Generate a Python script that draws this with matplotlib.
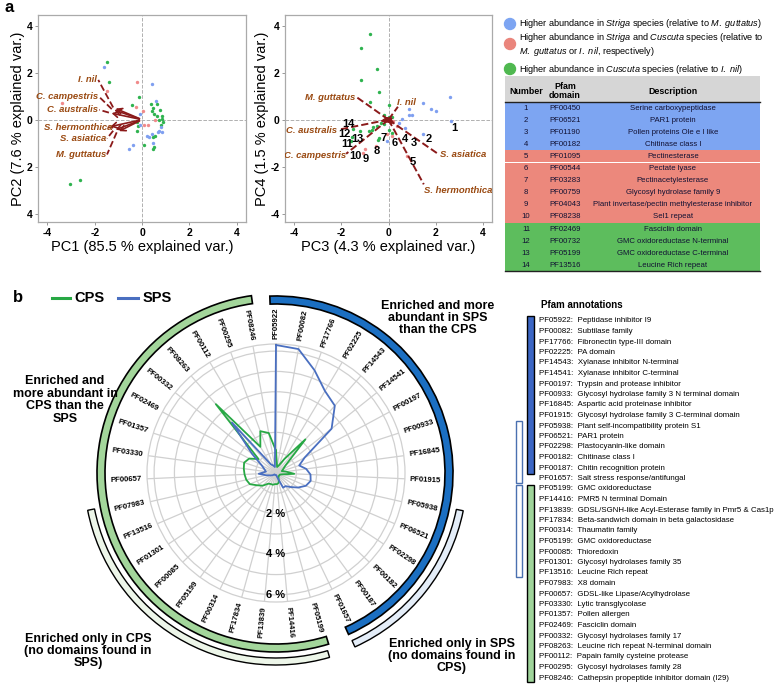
import matplotlib.pyplot as plt
import matplotlib.patches as mpatches
import numpy as np

plt.rcParams['font.family'] = ['Liberation Sans', 'DejaVu Sans']
plt.rcParams['mathtext.fontset'] = 'custom'
plt.rcParams['mathtext.rm'] = 'Liberation Sans'
plt.rcParams['mathtext.it'] = 'Liberation Sans:italic'
plt.rcParams['mathtext.bf'] = 'Liberation Sans:bold'

W, H = 778, 686

# ---------------- panel a data ----------------
pc12_green = [(-1.48, 2.46), (-1.4, 1.61), (-3.05, -2.75), (-2.63, -2.58), (-0.11, 0.95), (-0.44, 0.64),
              (0.37, 0.66), (0.45, 0.49), (0.62, 0.66), (0.41, 0.38), (0.76, 0.41), (0.51, 0.24),
              (0.65, 0.17), (0.83, 0.17), (0.86, 0.03), (0.9, -0.11), (0.79, -0.21), (0.55, -0.68),
              (0.45, -0.75), (0.08, -1.06), (0.51, -1.17), (0.48, -1.24), (-0.23, -0.47),
              (-0.18, -0.25), (0.72, 0.0), (-0.2, -0.1)]
pc12_blue = [(-1.61, 2.25), (0.42, 1.53), (0.59, 0.8), (-0.08, 0.24), (0.79, -0.33), (0.72, -0.47),
             (0.86, -0.54), (0.41, -0.61), (0.22, -0.68), (0.31, -0.72), (0.48, -1.0), (-0.39, -1.06),
             (-0.54, -1.24), (0.68, -0.54), (-0.08, -0.21)]
pc12_pink = [(-1.48, 1.23), (-3.4, 0.72), (-0.2, 1.6), (-0.25, 0.52), (0.03, 0.38), (0.55, -0.03),
             (0.27, -0.21), (0.08, -0.21)]

pc34_green = [(-0.79, 3.66), (-1.19, 3.06), (-0.51, 2.14), (-1.19, 1.67), (-0.41, 1.18), (-0.77, 0.75),
              (0.01, 0.61), (-0.2, 0.2), (0.0, 0.1), (0.15, 0.1), (-0.5, -0.25), (-0.65, -0.3),
              (-0.7, -0.45), (-0.85, -0.5), (-0.4, -0.8), (-0.45, -0.85), (-1.2, -0.5), (-1.5, -0.4),
              (0.0, -0.45), (0.15, -0.55), (-0.2, -0.2), (-0.3, -0.15), (-1.55, -0.75), (-1.6, -0.9)]
pc34_blue = [(2.6, 0.97), (1.47, 0.72), (1.79, 0.44), (2.0, 0.37), (0.86, 0.47), (0.86, 0.2), (1.0, 0.2),
             (0.58, 0.01), (2.67, -0.06), (1.47, -0.6), (-0.06, -0.91), (0.72, -0.34), (0.45, -0.15)]
pc34_pink = [(0.06, -0.06), (0.2, -0.05), (-0.98, -1.23), (-1.09, -1.4), (0.8, -1.55), (0.16, -0.7),
             (-0.06, -0.62), (0.35, -0.25), (-0.55, -1.12)]

species = ['I. nil', 'C. campestris', 'C. australis', 'S. hermonthica', 'S. asiatica', 'M. guttatus']
pc12_tips = [(-1.22, 0.52), (-1.28, 0.45), (-1.4, 0.3), (-1.45, -0.32), (-1.22, -0.47), (-1.07, -0.54)]
pc12_labels = [(-1.9, 1.69), (-1.86, 0.97), (-1.86, 0.42), (-1.27, -0.34), (-1.53, -0.8), (-1.53, -1.48)]

pc34_tips = [(0.3, 0.12), (-0.35, -0.12), (-0.45, -0.08), (0.28, -0.28), (0.35, -0.2), (-0.25, 0.2)]
pc34_ends = [(0.4, 0.55), (-1.8, -1.45), (-2.1, -0.42), (1.5, -2.75), (2.1, -1.45), (-1.33, 0.94)]
pc34_labels = [(0.37, 0.75), (-1.79, -1.52), (-2.18, -0.45), (1.5, -3.03), (2.18, -1.48), (-1.4, 0.94)]
pc34_ha = ['left', 'right', 'right', 'left', 'left', 'right']

num_pos = [(2.78, -0.34), (1.72, -0.84), (1.08, -0.98), (0.72, -0.84), (1.01, -1.8), (0.26, -0.98),
           (-0.2, -0.77), (-0.52, -1.33), (-0.98, -1.69), (-1.4, -1.55), (-1.76, -1.05), (-1.87, -0.6),
           (-1.31, -0.84), (-1.69, -0.2)]

tbl_num = [str(i) for i in range(1, 15)]
tbl_pfam = ['PF00450', 'PF06521', 'PF01190', 'PF00182', 'PF01095', 'PF00544', 'PF03283', 'PF00759',
            'PF04043', 'PF08238', 'PF02469', 'PF00732', 'PF05199', 'PF13516']
tbl_desc = ['Serine carboxypeptidase', 'PAR1 protein', 'Pollen proteins Ole e I like', 'Chitinase class I',
            'Pectinesterase', 'Pectate lyase', 'Pectinacetylesterase', 'Glycosyl hydrolase family 9',
            'Plant invertase/pectin methylesterase inhibitor', 'Sel1 repeat', 'Fasciclin domain',
            'GMC oxidoreductase N-terminal', 'GMC oxidoreductase C-terminal', 'Leucine Rich repeat']
tbl_group = [0] * 4 + [1] * 6 + [2] * 4

# ---------------- panel b data ----------------
pfam_ids = ['PF05922', 'PF00082', 'PF17766', 'PF02225', 'PF14543', 'PF14541', 'PF00197', 'PF00933',
            'PF16845', 'PF01915', 'PF05938', 'PF06521', 'PF02298', 'PF00182', 'PF00187', 'PF01657',
            'PF05199', 'PF14416', 'PF13839', 'PF17834', 'PF00314', 'PF05199', 'PF00085', 'PF01301',
            'PF13516', 'PF07983', 'PF00657', 'PF03330', 'PF01357', 'PF02469', 'PF00332', 'PF08263',
            'PF00112', 'PF00295', 'PF08246']
pfam_desc = ['Peptidase inhibitor I9', 'Subtilase family', 'Fibronectin type-III domain', 'PA domain',
             'Xylanase inhibitor N-terminal', 'Xylanase inhibitor C-terminal', 'Trypsin and protease inhibitor',
             'Glycosyl hydrolase family 3 N terminal domain', 'Aspartic acid proteinase inhibitor',
             'Glycosyl hydrolase family 3 C-terminal domain', 'Plant self-incompatibility protein S1',
             'PAR1 protein', 'Plastocyanin-like domain', 'Chitinase class I', 'Chitin recognition protein',
             'Salt stress response/antifungal', 'GMC oxidoreductase', 'PMR5 N terminal Domain',
             'GDSL/SGNH-like Acyl-Esterase family in Pmr5 & Cas1p', 'Beta-sandwich domain in beta galactosidase',
             'Thaumatin family', 'GMC oxidoreductase', 'Thioredoxin', 'Glycosyl hydrolases family 35',
             'Leucine Rich repeat', 'X8 domain', 'GDSL-like Lipase/Acylhydrolase', 'Lytic transglycolase',
             'Pollen allergen', 'Fasciclin domain', 'Glycosyl hydrolases family 17',
             'Leucine rich repeat N-terminal domain', 'Papain family cysteine protease',
             'Glycosyl hydrolases family 28', 'Cathepsin propeptide inhibitor domain (I29)']
sps = [6.3, 6.2, 5.4, 4.7, 4.4, 3.5, 1.6, 1.2, 1.5, 1.7, 1.75, 1.6, 1.3, 1.0, 0.8, 0.8, 0.2, 0.1,
       0.1, 0.1, 0.1, 0.1, 0.1, 0.2, 0.3, 0.5, 0.85, 0.5, 0.6, 0.8, 1.5, 3.3, 0.5, 0.4, 0.3]
cps = [1.1, 0.3, 0.4, 0.8, 2.2, 0.6, 0.4, 0.3, 0.5, 0.9, 0.3, 0.2, 0.2, 0.2, 0.2, 0.3, 0.5, 0.55,
       0.55, 0.6, 0.6, 0.65, 0.9, 1.1, 1.4, 1.5, 1.55, 1.6, 1.65, 1.5, 1.1, 4.5, 1.5, 2.2, 2.0]

GREEN_PT, BLUE_PT, PINK_PT = '#2fb34f', '#7f9ff0', '#f08a8a'
ARROW, LABEL = '#8b1a1a', '#9a4a12'


def px_rect(x0, y0, x1, y1):
    return [x0 / W, 1 - y1 / H, (x1 - x0) / W, (y1 - y0) / H]


fig = plt.figure(figsize=(W / 100, H / 100), dpi=100)


def biplot(ax, groups, xlabel, ylabel, yticklabels):
    for pts, col in groups:
        xs, ys = zip(*pts)
        ax.scatter(xs, ys, s=6, color=col, lw=0, zorder=2)
    ax.axhline(0, color='#b0b0b0', ls='--', lw=0.7, zorder=1)
    ax.axvline(0, color='#b0b0b0', ls='--', lw=0.7, zorder=1)
    ax.set_xlim(-4.4, 4.4)
    ax.set_ylim(-4.35, 4.45)
    ax.set_xticks([-4, -2, 0, 2, 4])
    ax.set_xticklabels(['-4', '-2', '0', '2', '4'], fontweight='bold', fontsize=7.5)
    ax.set_yticks([-4, -2, 0, 2, 4])
    ax.set_yticklabels(yticklabels, fontweight='bold', fontsize=7.5)
    ax.tick_params(length=2.5, width=0.6, color='#888888', pad=1.5)
    for sp in ax.spines.values():
        sp.set_color('#aaaaaa')
        sp.set_linewidth(0.9)
    ax.set_xlabel(xlabel, fontsize=10.5, labelpad=2)
    ax.set_ylabel(ylabel, fontsize=10.5, labelpad=1)


# left biplot
ax1 = fig.add_axes(px_rect(38, 15, 246, 222))
biplot(ax1, [(pc12_green, GREEN_PT), (pc12_blue, BLUE_PT), (pc12_pink, PINK_PT)],
       'PC1 (85.5 % explained var.)', 'PC2 (7.6 % explained var.)', ['4', '2', '0', '2', '4'])
for name, tip, lab in zip(species, pc12_tips, pc12_labels):
    ax1.annotate('', xy=tip, xytext=(0, 0),
                 arrowprops=dict(arrowstyle='->,head_length=0.35,head_width=0.2', color=ARROW, lw=1.2))
    ax1.plot([tip[0], lab[0] + 0.05], [tip[1], lab[1]], ls='--', color=ARROW, lw=1.3, zorder=3)
    ax1.text(lab[0], lab[1], name, ha='right', va='center', fontsize=6.8, style='italic',
             fontweight='bold', color=LABEL, zorder=4)

# middle biplot
ax2 = fig.add_axes(px_rect(285, 15, 492, 222))
biplot(ax2, [(pc34_green, GREEN_PT), (pc34_blue, BLUE_PT), (pc34_pink, PINK_PT)],
       'PC3 (4.3 % explained var.)', 'PC4 (1.5 % explained var.)', ['-4', '-2', '0', '2', '4'])
for name, tip, end, lab, ha in zip(species, pc34_tips, pc34_ends, pc34_labels, pc34_ha):
    ax2.plot([0, end[0]], [0, end[1]], ls='--', color=ARROW, lw=1.4, zorder=3)
    ax2.annotate('', xy=tip, xytext=(0, 0),
                 arrowprops=dict(arrowstyle='->,head_length=0.3,head_width=0.15', color=ARROW, lw=1.0))
    t = ax2.text(lab[0], lab[1], name, ha=ha, va='center', fontsize=6.8, style='italic',
                 fontweight='bold', color=LABEL, zorder=4)
    t.set_clip_on(True)
    t.set_clip_box(ax2.bbox)
for n, (x, y) in zip(tbl_num, num_pos):
    ax2.text(x, y, n, ha='center', va='center', fontsize=8, fontweight='bold', zorder=5)

# radar chart
cx, cy, R = 276, 473, 129
rmax = 6.35
axr = fig.add_axes(px_rect(cx - R, cy - R, cx + R, cy + R), projection='polar')
axr.set_theta_zero_location('N')
axr.set_theta_direction(-1)
n = len(pfam_ids)
ang = np.arange(n) * 2 * np.pi / n
axr.plot(np.append(ang, ang[0]), np.append(cps, cps[0]), color='#27a844', lw=1.3, zorder=3)
axr.plot(np.append(ang, ang[0]), np.append(sps, sps[0]), color='#4a6fc0', lw=1.3, zorder=3)
axr.set_ylim(0, rmax)
axr.set_xticks(ang)
axr.set_xticklabels([])
axr.set_yticks([1, 2, 3, 4, 5, 6])
axr.set_yticklabels([])
axr.grid(color='#d0d0d0', lw=0.9)
axr.spines['polar'].set_color('#d0d0d0')
axr.spines['polar'].set_linewidth(0.9)
for a, lab in zip(ang, pfam_ids):
    deg = np.degrees(a)
    rot = 90 - deg
    rot = (rot + 180) % 360 - 180
    if -90 < rot <= 90:
        ha = 'left'
    else:
        rot += 180
        ha = 'right'
    axr.text(a, rmax * 1.04, lab, rotation=rot, rotation_mode='anchor', ha=ha, va='center',
             fontsize=5.6, fontweight='bold')
for v in [2, 4, 6]:
    axr.text(np.pi, v, '%d %%' % v, ha='center', va='center', fontsize=8, fontweight='bold', zorder=4)

# overlay for table, arcs and annotations
ov = fig.add_axes([0, 0, 1, 1])
ov.set_xlim(0, W)
ov.set_ylim(H, 0)
ov.axis('off')

ov.text(5, 8, 'a', fontsize=12, fontweight='bold', va='center')
ov.text(13, 297, 'b', fontsize=12, fontweight='bold', va='center')

# legend panel a
leg_cols = ['#7da5f2', '#ea857c', '#4fb850']
ov.add_patch(mpatches.Circle((510, 24), 5.5, color=leg_cols[0]))
ov.add_patch(mpatches.Circle((510, 44), 5.5, color=leg_cols[1]))
ov.add_patch(mpatches.Circle((510, 69), 5.5, color=leg_cols[2]))
fs_leg = 6.6
ov.text(519, 24, r'Higher abundance in $\it{Striga}$ species (relative to $\it{M.\ guttatus}$)',
        fontsize=fs_leg, va='center')
ov.text(519, 44.5, 'Higher abundance in $\\it{Striga}$ and $\\it{Cuscuta}$ species (relative to\n'
        '$\\it{M.\\ guttatus}$ or $\\it{I.\\ nil}$, respectively)', fontsize=fs_leg, va='center',
        linespacing=1.0)
ov.text(519, 69, r'Higher abundance in $\it{Cuscuta}$ species (relative to $\it{I.\ nil}$)',
        fontsize=fs_leg, va='center')

# table
tx0, tx1 = 505, 760
hy0, hy1 = 76, 102
rh = 12.1
row_cols = ['#7da5f2', '#ec887c', '#5dbd5d']
ov.add_patch(mpatches.Rectangle((tx0, hy0), tx1 - tx0, hy1 - hy0, color='#d6d6d6', lw=0))
ov.plot([tx0, tx1], [hy1, hy1], color='#222222', lw=1.0)
ov.text(526, 91, 'Number', ha='center', va='center', fontsize=6.4, fontweight='bold')
ov.text(565, 91, 'Pfam\ndomain', ha='center', va='center', fontsize=6.4, fontweight='bold', linespacing=1.1)
ov.text(673, 91, 'Description', ha='center', va='center', fontsize=6.4, fontweight='bold')
for i in range(len(tbl_num)):
    y0 = hy1 + i * rh
    ov.add_patch(mpatches.Rectangle((tx0, y0), tx1 - tx0, rh, color=row_cols[tbl_group[i]], lw=0))
    yc = y0 + rh / 2
    ov.text(526, yc, tbl_num[i], ha='center', va='center', fontsize=5.6, color='#111133')
    ov.text(565, yc, tbl_pfam[i], ha='center', va='center', fontsize=5.6, color='#111133')
    ov.text(673, yc, tbl_desc[i], ha='center', va='center', fontsize=5.6, color='#111133')
ov.plot([tx0, tx1], [hy1 + 14 * rh, hy1 + 14 * rh], color='#222222', lw=1.0)

# arcs around radar (data angles are screen angles negated since y is inverted)
ov.add_patch(mpatches.Wedge((cx, cy), 179, -287.1, -97.9, width=8, facecolor='#a3d69b',
                            edgecolor='black', lw=1.2))
ov.add_patch(mpatches.Wedge((cx, cy), 177, -92.0, 65.8, width=8, facecolor='#1b6fc2',
                            edgecolor='black', lw=1.2))
ov.add_patch(mpatches.Wedge((cx, cy), 191, 11.4, 65.6, width=7, facecolor='#e4edf8',
                            edgecolor='black', lw=1.0))
ov.add_patch(mpatches.Wedge((cx, cy), 192, -286.2, -191.2, width=7, facecolor='#edf6e9',
                            edgecolor='black', lw=1.0))

fs_b = 9
ov.text(65, 400, 'Enriched and\nmore abundant in\nCPS than the\nSPS', ha='center', va='center',
        fontsize=fs_b, fontweight='bold', linespacing=1.05)
ov.text(438, 318, 'Enriched and more\nabundant in SPS\nthan the CPS', ha='center', va='center',
        fontsize=fs_b, fontweight='bold', linespacing=1.05)
ov.text(88, 651, 'Enriched only in CPS\n(no domains found in\nSPS)', ha='center', va='center',
        fontsize=fs_b, fontweight='bold', linespacing=1.05)
ov.text(452, 656, 'Enriched only in SPS\n(no domains found in\nCPS)', ha='center', va='center',
        fontsize=fs_b, fontweight='bold', linespacing=1.05)

# legend panel b
ov.plot([52, 70], [298, 298], color='#27a844', lw=2.2)
ov.text(74, 298, 'CPS', fontsize=10.5, fontweight='bold', va='center')
ov.plot([118, 138], [298, 298], color='#4a6fc0', lw=2.2)
ov.text(143, 298, 'SPS', fontsize=10.5, fontweight='bold', va='center')

# Pfam annotations list
ov.text(541, 305, 'Pfam annotations', fontsize=7, fontweight='bold', va='center')
ly0, lsp = 321, 10.5
for i, (pid, desc) in enumerate(zip(pfam_ids, pfam_desc)):
    ov.text(539, ly0 + i * lsp, pid + ':  ' + desc, fontsize=5.7, va='center')
ov.add_patch(mpatches.Rectangle((527, ly0 - 5), 7, 15 * lsp + 0.5, facecolor='#3c66c4',
                                edgecolor='black', lw=1.0))
ov.add_patch(mpatches.Rectangle((527, ly0 + 16 * lsp - 4), 7, 18 * lsp + 8, facecolor='#9fd49a',
                                edgecolor='black', lw=1.0))
ov.add_patch(mpatches.Rectangle((516, ly0 + 10 * lsp - 5), 6, 5 * lsp + 9, facecolor='white',
                                edgecolor='#4a70b0', lw=1.0))
ov.add_patch(mpatches.Rectangle((516, ly0 + 16 * lsp - 4), 6, 8 * lsp + 8, facecolor='white',
                                edgecolor='#4a70b0', lw=1.0))

fig.savefig('out.png', dpi=100)
